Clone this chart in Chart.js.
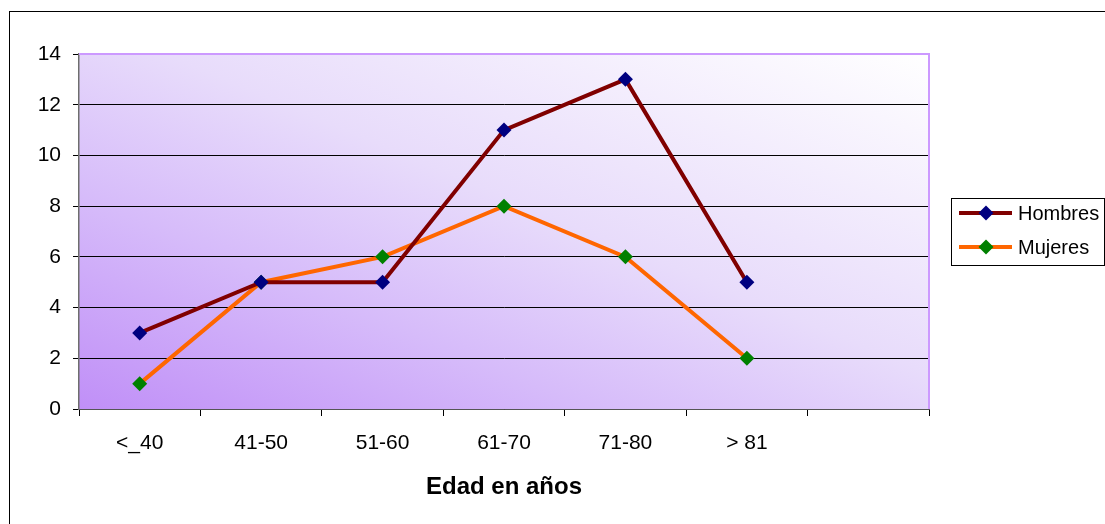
<!DOCTYPE html>
<html>
<head>
<meta charset="utf-8">
<script src="https://cdn.jsdelivr.net/npm/chart.js@4.4.1/dist/chart.umd.min.js"></script>
<style>
  html, body { margin: 0; padding: 0; background: #ffffff; }
  #wrap { width: 1105px; height: 524px; position: relative; }
</style>
</head>
<body>
<div id="wrap"><canvas id="edadChart" width="1105" height="524"></canvas></div>
<script>
// datos
var categorias = ['<_40', '41-50', '51-60', '61-70', '71-80', '> 81', '']
var hombres = [3, 5, 5, 11, 13, 5, null]
var mujeres = [1, 5, 6, 8, 6, 2, null]
var nombresSeries = ['Hombres', 'Mujeres']
var tituloX = 'Edad en años'

var fuente = 'Arial, "Liberation Sans", sans-serif'

// fondo degradado del area de trazado + bordes
var fondoPlot = {
  id: 'fondoPlot',
  beforeDraw: function (chart) {
    var ctx = chart.ctx
    var a = chart.chartArea
    var w = a.right - a.left
    var h = a.bottom - a.top
    var cx = (a.left + a.right) / 2
    var cy = (a.top + a.bottom) / 2
    var len = Math.sqrt(w * w + h * h)
    var ux = h / len, uy = -w / len
    var L = w * h / len
    var g = ctx.createLinearGradient(cx - L * ux, cy - L * uy, cx + L * ux, cy + L * uy)
    g.addColorStop(0, '#c08ff7')
    g.addColorStop(0.3, '#d6bbfa')
    g.addColorStop(0.55, '#e8dcfb')
    g.addColorStop(1, '#ffffff')
    ctx.save()
    ctx.fillStyle = g
    ctx.fillRect(a.left, a.top, w, h)
    ctx.restore()
  },
  afterDraw: function (chart) {
    var ctx = chart.ctx
    var a = chart.chartArea
    ctx.save()
    // borde claro arriba y derecha
    ctx.strokeStyle = '#cc99ff'
    ctx.lineWidth = 2
    ctx.beginPath()
    ctx.moveTo(a.left, a.top)
    ctx.lineTo(a.right, a.top)
    ctx.lineTo(a.right, a.bottom)
    ctx.stroke()
    // marco exterior
    ctx.strokeStyle = '#000000'
    ctx.lineWidth = 1
    ctx.strokeRect(9.5, 11.5, 1200, 600)
    ctx.restore()
  }
}

// leyenda dibujada a mano (caja a la derecha)
var leyenda = {
  id: 'leyenda',
  afterDraw: function (chart) {
    var ctx = chart.ctx
    var x = 951, y = 198, w = 153, h = 67
    ctx.save()
    ctx.fillStyle = '#ffffff'
    ctx.fillRect(x, y, w, h)
    ctx.strokeStyle = '#000000'
    ctx.lineWidth = 1
    ctx.strokeRect(x + 0.5, y + 0.5, w, h)
    chart.data.datasets.forEach(function (ds, i) {
      var ly = y + 15 + i * 34
      ctx.strokeStyle = ds.borderColor
      ctx.lineWidth = ds.borderWidth
      ctx.beginPath()
      ctx.moveTo(959, ly)
      ctx.lineTo(1012, ly)
      ctx.stroke()
      var r = ds.pointRadius
      ctx.fillStyle = ds.pointBackgroundColor
      ctx.beginPath()
      ctx.moveTo(986, ly - r)
      ctx.lineTo(986 + r, ly)
      ctx.lineTo(986, ly + r)
      ctx.lineTo(986 - r, ly)
      ctx.closePath()
      ctx.fill()
      ctx.fillStyle = '#000000'
      ctx.font = '20px ' + fuente
      ctx.textBaseline = 'middle'
      ctx.fillText(ds.label, 1018, ly + 1)
    })
    ctx.restore()
  }
}

var ctx = document.getElementById('edadChart').getContext('2d')
var edadChart = new Chart(ctx, {
  type: 'line',
  data: {
    labels: categorias,
    datasets: [
      {
        label: nombresSeries[0],
        data: hombres,
        borderColor: '#800000',
        borderWidth: 4,
        pointStyle: 'rectRot',
        pointRadius: 7.5,
        pointBackgroundColor: '#000080',
        pointBorderColor: '#000080',
        pointBorderWidth: 0,
        tension: 0
      },
      {
        label: nombresSeries[1],
        data: mujeres,
        borderColor: '#ff6600',
        borderWidth: 4,
        pointStyle: 'rectRot',
        pointRadius: 7.5,
        pointBackgroundColor: '#008000',
        pointBorderColor: '#008000',
        pointBorderWidth: 0,
        tension: 0
      }
    ]
  },
  options: {
    responsive: false,
    animation: false,
    layout: { padding: { top: 54, right: 176, left: 0, bottom: 0 } },
    scales: {
      x: {
        offset: true,
        afterFit: function (s) { s.height = 115 },
        grid: {
          offset: true,
          drawOnChartArea: false,
          drawTicks: true,
          tickLength: 7,
          color: '#000000'
        },
        border: { color: '#555555', width: 1 },
        ticks: {
          color: '#000000',
          padding: 15,
          maxRotation: 0,
          autoSkip: false,
          font: { family: fuente, size: 21 }
        },
        title: {
          display: true,
          text: tituloX,
          color: '#000000',
          font: { family: fuente, size: 24, weight: 'bold' },
          padding: { top: 0, bottom: 22 }
        }
      },
      y: {
        min: 0,
        max: 14,
        afterFit: function (s) { s.width = 79 },
        grid: {
          color: '#000000',
          drawTicks: true,
          tickLength: 6
        },
        border: { color: '#6e6e6e', width: 1.5 },
        ticks: {
          stepSize: 2,
          color: '#000000',
          padding: 12,
          font: { family: fuente, size: 21 }
        }
      }
    },
    plugins: {
      legend: { display: false },
      tooltip: { enabled: false }
    }
  },
  plugins: [fondoPlot, leyenda]
})
</script>
</body>
</html>
